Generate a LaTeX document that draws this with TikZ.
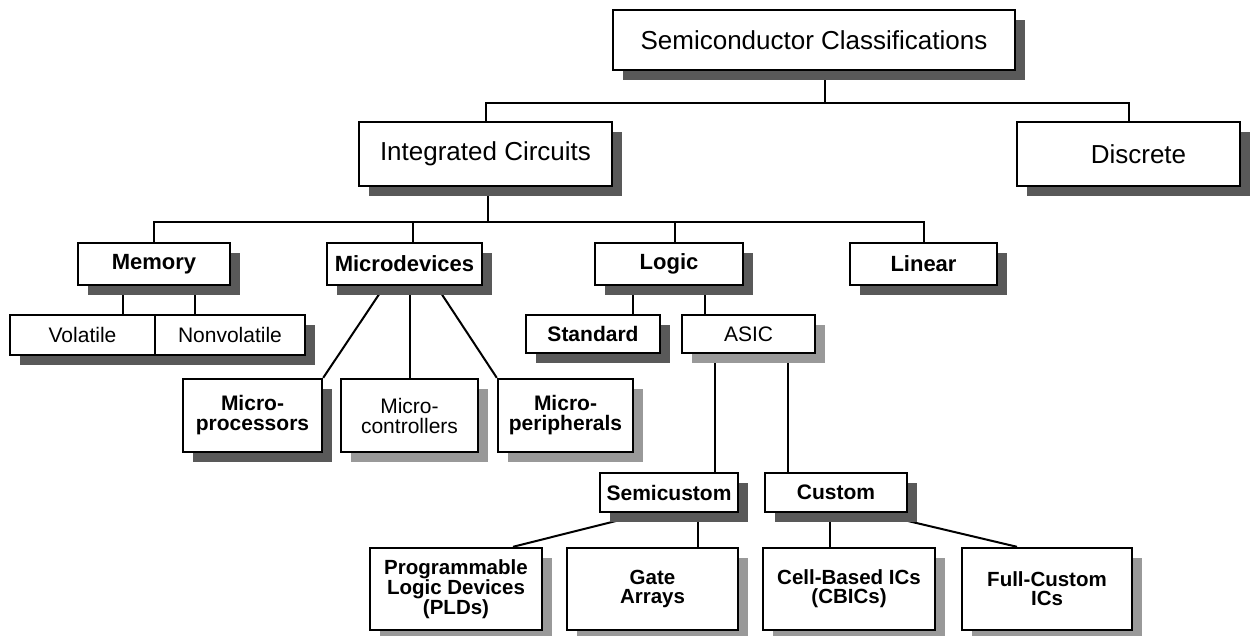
\documentclass[tikz,border=0pt]{standalone}
\usepackage{fontspec}
\setmainfont{Liberation Sans}
\usetikzlibrary{shadows,backgrounds}
\begin{document}
\begin{tikzpicture}[x=1pt,y=-1pt,
  box/.style={draw, line width=2.4pt, fill=white, inner sep=1pt, align=center,
    drop shadow={shadow xshift=10pt, shadow yshift=-10pt, fill=black!65, opacity=1}},
  lbox/.style={box, drop shadow={shadow xshift=10pt, shadow yshift=-10pt, fill=black!40, opacity=1}},
  tA/.style={font=\fontsize{26}{30}\selectfont},
  tB/.style={font=\fontsize{22}{24}\selectfont\bfseries},
  tC/.style={font=\fontsize{21}{20}\selectfont},
  tCb/.style={font=\fontsize{21}{20}\selectfont\bfseries},
  tD/.style={font=\fontsize{20.5}{19}\selectfont\bfseries},
  conn/.style={line width=2pt}]
\useasboundingbox (0,0) rectangle (1253,635);

% level 0/1
\node[box,tA,minimum width=402pt,minimum height=60pt] (title) at (814,40) {Semiconductor Classifications};
\node[box,tA,minimum width=253pt,minimum height=64pt] (ic) at (485.5,154) {Integrated Circuits};
\node[box,tA,minimum width=223pt,minimum height=64pt] (disc) at (1128.5,154) {\hspace*{20pt}Discrete};

% level 2
\node[box,tB,minimum width=152pt,minimum height=42pt] (mem) at (154,264) {Memory};
\node[box,tB,minimum width=155pt,minimum height=42pt] (micro) at (404.5,264) {Microdevices};
\node[box,tB,minimum width=148pt,minimum height=42pt] (logic) at (669,264) {Logic};
\node[box,tB,minimum width=147pt,minimum height=42pt] (linear) at (923.5,264) {Linear};

% level 3
\node[box,tC,minimum width=145pt,minimum height=40pt] (vol) at (82.5,335) {Volatile};
\node[box,tC,minimum width=150pt,minimum height=40pt] (nonvol) at (230,335) {Nonvolatile};
\node[box,tCb,minimum width=134pt,minimum height=38pt] (std) at (593,334) {Standard};
\node[lbox,tC,minimum width=133pt,minimum height=38pt] (asic) at (748.5,334) {ASIC};

\node[box,tCb,minimum width=139pt,minimum height=73pt] (mproc) at (252.5,415.5) {Micro-\\processors};
\node[lbox,tC,minimum width=137pt,minimum height=73pt] (mctrl) at (409.5,415.5) {Micro-\\controllers};
\node[lbox,tCb,minimum width=135pt,minimum height=73pt] (mper) at (565.5,415.5) {Micro-\\peripherals};

% level 4
\node[box,tCb,minimum width=138pt,minimum height=39pt] (semi) at (669,492.5) {Semicustom};
\node[box,tCb,minimum width=142pt,minimum height=39pt] (cust) at (836,492.5) {Custom};

% level 5
\node[lbox,tD,minimum width=172pt,minimum height=82pt] (pld) at (456,589) {Programmable\\Logic Devices\\(PLDs)};
\node[lbox,tD,minimum width=171pt,minimum height=82pt] (gate) at (652.5,589) {Gate\\Arrays};
\node[lbox,tD,minimum width=172pt,minimum height=82pt] (cbic) at (849,589) {Cell-Based ICs\\(CBICs)};
\node[lbox,tD,minimum width=170pt,minimum height=82pt] (full) at (1047,589) {Full-Custom\\ICs};

\coordinate (j1) at (825,103);
\coordinate (j2) at (488,222);

\begin{scope}[on background layer]
\draw[conn] (title.south -| j1) -- (j1);
\draw[conn] (ic.north) |- (j1) -| (disc.north);
\draw[conn] (ic.south -| j2) -- (j2);
\draw[conn] (mem.north) |- (linear.north |- j2) -- (linear.north);
\draw[conn] ([xshift=8pt]micro.north) -- ([xshift=8pt]micro.north |- j2);
\draw[conn] ([xshift=6pt]logic.north) -- ([xshift=6pt]logic.north |- j2);

\draw[conn] ([xshift=-31pt]mem.south) -- ([xshift=-31pt]mem.south |- vol.north);
\draw[conn] ([xshift=41pt]mem.south) -- ([xshift=41pt]mem.south |- nonvol.north);

\draw[conn] ([xshift=-20pt]micro.south) -- (mproc.north east);
\draw[conn] (micro.south -| mctrl.north) -- (mctrl.north);
\draw[conn] ([xshift=32pt]micro.south) -- (mper.north west);

\draw[conn] ([xshift=-36pt]logic.south) -- ([xshift=-36pt]logic.south |- std.north);
\draw[conn] ([xshift=36pt]logic.south) -- ([xshift=36pt]logic.south |- asic.north);

\draw[conn] ([xshift=-33.5pt]asic.south) -- ([xshift=-33.5pt]asic.south |- semi.north);
\draw[conn] ([xshift=39.5pt]asic.south) -- ([xshift=39.5pt]asic.south |- cust.north);

\draw[conn] ([xshift=-22pt]semi.south) -- ([xshift=57pt]pld.north);
\draw[conn] ([xshift=29pt]semi.south) -- ([xshift=29pt]semi.south |- gate.north);
\draw[conn] ([xshift=-6pt]cust.south) -- ([xshift=-6pt]cust.south |- cbic.north);
\draw[conn] ([xshift=39pt]cust.south) -- ([xshift=-30pt]full.north);
\end{scope}
\end{tikzpicture}
\end{document}
